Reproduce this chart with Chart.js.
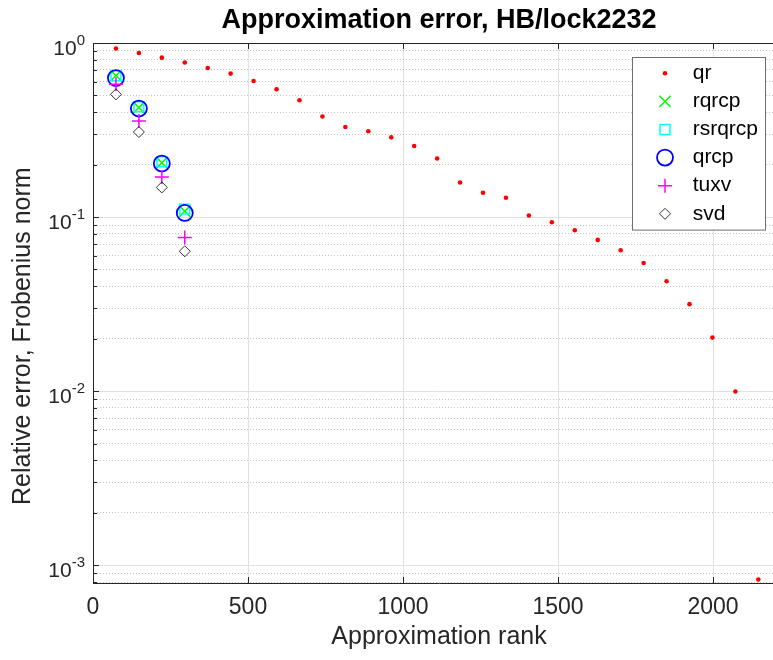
<!DOCTYPE html>
<html>
<head>
<meta charset="utf-8">
<script src="https://cdn.jsdelivr.net/npm/chart.js@4/dist/chart.umd.min.js"></script>
<style>
  html, body { margin: 0; padding: 0; background: #fff; overflow: hidden; }
  #wrap { width: 773px; height: 660px; overflow: hidden; }
</style>
</head>
<body>
<div id="wrap"><canvas id="chart" width="800" height="660"></canvas></div>
<script>
// ranks for the plain qr run and for the short pivoted runs
const ranks = [74, 148, 222, 296, 370, 444, 518, 592, 666, 740, 814, 888, 962, 1036, 1110,
  1184, 1258, 1332, 1406, 1480, 1554, 1628, 1702, 1776, 1850, 1924, 1998, 2072, 2146];
const qrErr = [0.929, 0.876, 0.824, 0.772, 0.718, 0.667, 0.605, 0.542, 0.469, 0.378, 0.329, 0.311,
  0.287, 0.256, 0.217, 0.158, 0.138, 0.129, 0.102, 0.0934, 0.0840, 0.0739, 0.0645, 0.0545,
  0.0428, 0.0316, 0.0203, 0.00995, 0.000828];
const fewRanks = [74, 148, 222, 296];
const rqrcpErr = [0.650, 0.426, 0.205, 0.108];
const rsrqrcpErr = [0.648, 0.430, 0.208, 0.111];
const qrcpErr = [0.629, 0.420, 0.203, 0.1056];
const tuxvErr = [0.579, 0.356, 0.170, 0.0762];
const svdErr = [0.507, 0.308, 0.148, 0.0636];

const xTicks = [0, 500, 1000, 1500, 2000];
const yExponents = [0, -1, -2, -3];
const yMinorMult = [2, 3, 4, 5, 6, 7, 8, 9];

const titleText = 'Approximation error, HB/lock2232';
const xTitle = 'Approximation rank';
const yTitle = 'Relative error, Frobenius norm';

const family = "'Liberation Sans', Arial, Helvetica, sans-serif";
const axisColor = '#262626';
Chart.defaults.font.family = family;

const pts = (xs, ys) => xs.map((x, i) => ({ x: x, y: ys[i] }));
const isDecade = v => Math.abs(Math.log10(v) - Math.round(Math.log10(v))) < 1e-9;
const none = 'rgba(0,0,0,0)';

const series = [
  { label: 'qr', data: pts(ranks, qrErr), pointStyle: 'circle', pointRadius: 2.3,
    pointBorderColor: '#ff0000', pointBackgroundColor: '#ff0000', pointBorderWidth: 0 },
  { label: 'rqrcp', data: pts(fewRanks, rqrcpErr), pointStyle: 'crossRot', pointRadius: 8,
    pointBorderColor: '#00ff00', pointBackgroundColor: none, pointBorderWidth: 1.5 },
  { label: 'rsrqrcp', data: pts(fewRanks, rsrqrcpErr), pointStyle: 'rect', pointRadius: 7,
    pointBorderColor: '#00ffff', pointBackgroundColor: none, pointBorderWidth: 1.5 },
  { label: 'qrcp', data: pts(fewRanks, qrcpErr), pointStyle: 'circle', pointRadius: 8,
    pointBorderColor: '#0000ff', pointBackgroundColor: none, pointBorderWidth: 1.8 },
  { label: 'tuxv', data: pts(fewRanks, tuxvErr), pointStyle: 'cross', pointRadius: 7,
    pointBorderColor: '#ff00ff', pointBackgroundColor: none, pointBorderWidth: 1.5 },
  { label: 'svd', data: pts(fewRanks, svdErr), pointStyle: 'rectRot', pointRadius: 5.5,
    pointBorderColor: '#000000', pointBackgroundColor: none, pointBorderWidth: 0.8 },
];

// box top line, inward tick marks, 10^k labels, y title and the legend
const matlabAxes = {
  id: 'matlabAxes',
  afterDraw(chart) {
    const { ctx, chartArea: { left, right, top, bottom }, scales: { x, y } } = chart;
    ctx.save();

    ctx.strokeStyle = axisColor;
    ctx.lineWidth = 1;
    ctx.beginPath();
    ctx.moveTo(left, top + 0.5);
    ctx.lineTo(right, top + 0.5);
    x.ticks.forEach(t => {
      const px = Math.round(x.getPixelForValue(t.value)) + 0.5;
      ctx.moveTo(px, bottom);
      ctx.lineTo(px, bottom - 6);
      ctx.moveTo(px, top);
      ctx.lineTo(px, top + 6);
    });
    y.ticks.forEach(t => {
      const py = Math.round(y.getPixelForValue(t.value)) + 0.5;
      ctx.moveTo(left, py);
      ctx.lineTo(left + (isDecade(t.value) ? 6 : 4), py);
    });
    ctx.stroke();

    ctx.fillStyle = axisColor;
    ctx.textBaseline = 'alphabetic';
    ctx.textAlign = 'left';
    yExponents.forEach(e => {
      const py = y.getPixelForValue(Math.pow(10, e));
      const sup = String(e);
      ctx.font = '15px ' + family;
      const sw = ctx.measureText(sup).width;
      ctx.font = '21px ' + family;
      const bw = ctx.measureText('10').width;
      const xEnd = left - 8;
      ctx.fillText('10', xEnd - sw - bw, py + 12);
      ctx.font = '15px ' + family;
      ctx.fillText(sup, xEnd - sw, py + 2);
    });

    ctx.save();
    ctx.translate(29.5, 505);
    ctx.rotate(-Math.PI / 2);
    ctx.font = '25px ' + family;
    ctx.fillText(yTitle, 0, 0);
    ctx.restore();

    // legend
    const boxW = 133, rowH = 28.1, boxH = 172.6;
    const bx = right - 20 - boxW, by = top + 14;
    ctx.fillStyle = '#fff';
    ctx.fillRect(bx, by, boxW, boxH);
    ctx.strokeStyle = '#6e6e6e';
    ctx.lineWidth = 1;
    ctx.strokeRect(bx + 0.5, by + 0.5, boxW, boxH);
    chart.data.datasets.forEach((ds, i) => {
      const cy = by + 16.3 + i * rowH;
      ctx.strokeStyle = ds.pointBorderColor;
      ctx.fillStyle = ds.pointBackgroundColor;
      ctx.lineWidth = ds.pointBorderWidth;
      Chart.helpers.drawPoint(ctx, { pointStyle: ds.pointStyle, radius: ds.pointRadius, rotation: 0,
        borderWidth: ds.pointBorderWidth }, bx + 33, cy);
      ctx.fillStyle = '#000';
      ctx.font = '21px ' + family;
      ctx.textBaseline = 'middle';
      ctx.fillText(ds.label, bx + 60.7, cy);
    });

    ctx.restore();
  }
};

new Chart(document.getElementById('chart'), {
  type: 'scatter',
  data: {
    datasets: series.map((s, i) => ({ ...s, order: series.length - i })),
  },
  options: {
    responsive: false,
    animation: false,
    events: [],
    layout: {
      padding: { left: 0, right: 15, top: 0, bottom: 0 }
    },
    plugins: {
      legend: { display: false },
      tooltip: { enabled: false },
      title: {
        display: true,
        text: titleText,
        fullSize: false,
        color: '#000',
        font: { size: 27, weight: 'bold' },
        padding: { top: 4, bottom: 6.6 }
      }
    },
    scales: {
      x: {
        type: 'linear',
        min: 0,
        max: 2232,
        afterBuildTicks: (s) => { s.ticks = xTicks.map(v => ({ value: v })); },
        afterFit: (s) => { s.height = 77; },
        ticks: {
          callback: (v) => String(v),
          font: { size: 23 },
          color: axisColor,
          padding: 11,
          maxRotation: 0,
          autoSkip: false
        },
        grid: {
          drawTicks: false,
          color: (c) => (c.tick && c.tick.value === 0) ? none : '#e1e1e1',
          lineWidth: 1
        },
        border: { color: axisColor, width: 1 },
        title: {
          display: true,
          text: xTitle,
          color: axisColor,
          font: { size: 25 },
          padding: { top: 0, bottom: 8 }
        }
      },
      y: {
        type: 'logarithmic',
        min: 7.9e-4,
        max: 1,
        afterBuildTicks: (s) => {
          const t = [];
          yExponents.forEach(e => {
            t.push({ value: Math.pow(10, e) });
            yMinorMult.forEach(m => t.push({ value: m * Math.pow(10, e - 1) }));
          });
          s.ticks = t.filter(o => o.value >= s.min && o.value <= s.max)
                     .sort((a, b) => a.value - b.value);
        },
        afterFit: (s) => { s.width = 93; },
        ticks: { display: false },
        grid: {
          drawTicks: false,
          color: (c) => (c.tick && isDecade(c.tick.value)) ? '#e1e1e1' : 'rgba(38,38,38,0.28)',
          lineWidth: 1
        },
        border: {
          color: axisColor,
          width: 1,
          dash: (c) => (c.tick && !isDecade(c.tick.value)) ? [1, 2] : []
        }
      }
    }
  },
  plugins: [matlabAxes]
});
</script>
</body>
</html>
